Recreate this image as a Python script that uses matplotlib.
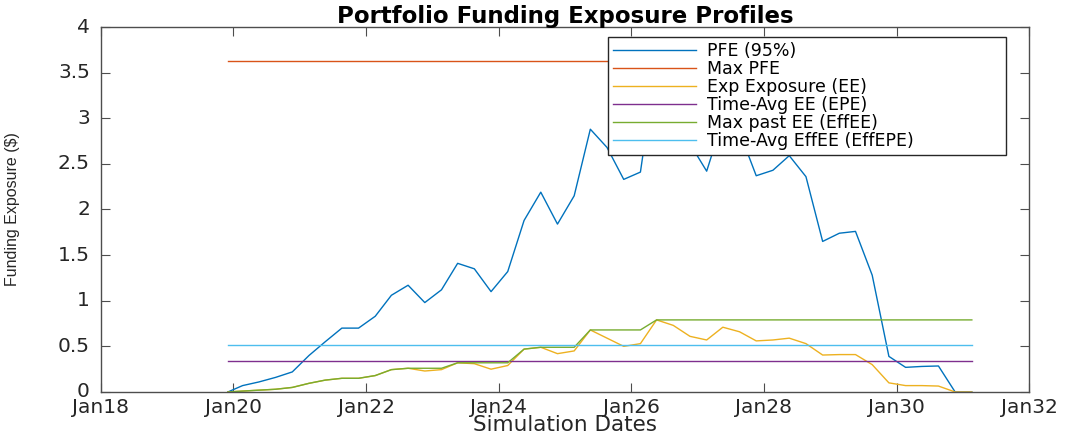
import matplotlib
matplotlib.use("Agg")
import matplotlib.pyplot as plt
import matplotlib.dates as mdates
from matplotlib.ticker import FormatStrFormatter
import pandas as pd

plt.rcParams['font.family'] = ['DejaVu Sans']

sim_dates = ['2019-12-01',
             '2020-02-20', '2020-05-20', '2020-08-20', '2020-11-20',
             '2021-02-20', '2021-05-20', '2021-08-20', '2021-11-20',
             '2022-02-20', '2022-05-20', '2022-08-20', '2022-11-20',
             '2023-02-20', '2023-05-20', '2023-08-20', '2023-11-20',
             '2024-02-20', '2024-05-20', '2024-08-20', '2024-11-20',
             '2025-02-20', '2025-05-20', '2025-08-20', '2025-11-20',
             '2026-02-20', '2026-05-20', '2026-08-20', '2026-11-20',
             '2027-02-20', '2027-05-20', '2027-08-20', '2027-11-20',
             '2028-02-20', '2028-05-20', '2028-08-20', '2028-11-20',
             '2029-02-20', '2029-05-20', '2029-08-20', '2029-11-20',
             '2030-02-20', '2030-05-20', '2030-08-20', '2030-11-20',
             '2031-02-20']

pfe = [0.00,
       0.07, 0.11, 0.16, 0.22,
       0.40, 0.55, 0.70, 0.70,
       0.83, 1.06, 1.17, 0.98,
       1.12, 1.41, 1.35, 1.10,
       1.32, 1.88, 2.19, 1.84,
       2.15, 2.88, 2.68, 2.33,
       2.41, 3.63, 3.10, 2.72,
       2.42, 2.98, 2.85, 2.37,
       2.43, 2.59, 2.36, 1.65,
       1.74, 1.76, 1.28, 0.39,
       0.27, 0.28, 0.285, 0.00,
       0.00]

ee = [0.00,
      0.01, 0.02, 0.03, 0.05,
      0.095, 0.13, 0.15, 0.15,
      0.18, 0.245, 0.26, 0.23,
      0.245, 0.32, 0.31, 0.25,
      0.29, 0.47, 0.49, 0.42,
      0.45, 0.68, 0.59, 0.50,
      0.53, 0.79, 0.73, 0.61,
      0.57, 0.71, 0.66, 0.56,
      0.57, 0.59, 0.53, 0.405,
      0.41, 0.41, 0.30, 0.10,
      0.07, 0.07, 0.065, 0.00,
      0.00]

eff_ee = [0.00,
          0.01, 0.02, 0.03, 0.05,
          0.095, 0.13, 0.15, 0.15,
          0.18, 0.245, 0.26, 0.26,
          0.26, 0.32, 0.32, 0.32,
          0.32, 0.47, 0.49, 0.49,
          0.49, 0.68, 0.68, 0.68,
          0.68, 0.79, 0.79, 0.79,
          0.79, 0.79, 0.79, 0.79,
          0.79, 0.79, 0.79, 0.79,
          0.79, 0.79, 0.79, 0.79,
          0.79, 0.79, 0.79, 0.79,
          0.79]

max_pfe = 3.63
epe = 0.34
eff_epe = 0.515

labels = ['PFE (95%)', 'Max PFE', 'Exp Exposure (EE)', 'Time-Avg EE (EPE)',
          'Max past EE (EffEE)', 'Time-Avg EffEE (EffEPE)']
colors = ['#0072BD', '#D95319', '#EDB120', '#7E2F8E', '#77AC30', '#4DBEEE']

dates = pd.to_datetime(sim_dates)
span = [dates[0], dates[-1]]

fig = plt.figure(figsize=(10.71, 4.37), dpi=100)
ax = fig.add_axes([0.0943, 0.103, 0.8665, 0.8352])

lw = 1.0
ax.plot(dates, pfe, color=colors[0], lw=lw, label=labels[0])
ax.plot(span, [max_pfe, max_pfe], color=colors[1], lw=lw, label=labels[1])
ax.plot(dates, ee, color=colors[2], lw=lw, label=labels[2])
ax.plot(span, [epe, epe], color=colors[3], lw=lw, label=labels[3])
ax.plot(dates, eff_ee, color=colors[4], lw=lw, label=labels[4])
ax.plot(span, [eff_epe, eff_epe], color=colors[5], lw=lw, label=labels[5])

ax.set_xlim(pd.Timestamp('2018-01-01'), pd.Timestamp('2032-01-01'))
ax.set_ylim(0, 4)
ax.xaxis.set_major_locator(mdates.YearLocator(2))
ax.xaxis.set_major_formatter(mdates.DateFormatter('%b%y'))
ax.set_yticks([0, 0.5, 1, 1.5, 2, 2.5, 3, 3.5, 4])
ax.yaxis.set_major_formatter(FormatStrFormatter('%g'))

axcol = '#4d4d4d'
for s in ax.spines.values():
    s.set_color(axcol)
    s.set_linewidth(1.0)
ax.tick_params(direction='in', length=6.5, width=0.8, colors=axcol,
               top=True, right=True, labelsize=14.5, labelcolor='#262626')
ax.tick_params(axis='x', pad=4.5)
ax.tick_params(axis='y', pad=8)
for t in ax.get_yticklabels():
    t.set_verticalalignment('center')

ax.set_title('Portfolio Funding Exposure Profiles', fontsize=16.5,
             fontweight='bold', pad=3)
ax.set_xlabel('Simulation Dates', fontsize=15.5, color='#262626', labelpad=-1.5)
ax.set_ylabel('Funding Exposure ($)', fontsize=11.5, color='#262626',
              family=['Liberation Sans', 'DejaVu Sans'])
ax.yaxis.set_label_coords(-0.087, 0.5)

leg = ax.legend(loc='upper left', bbox_to_anchor=(0.546, 0.682, 0.429, 0.2906),
                mode='expand', fontsize=12.5, labelspacing=0.0,
                handlelength=4.8, handletextpad=0.6, borderpad=0.3,
                fancybox=False, framealpha=1.0, borderaxespad=0.0)
leg.get_frame().set_edgecolor('#262626')
leg.get_frame().set_linewidth(1.0)

fig.savefig('out.png', dpi=100)
